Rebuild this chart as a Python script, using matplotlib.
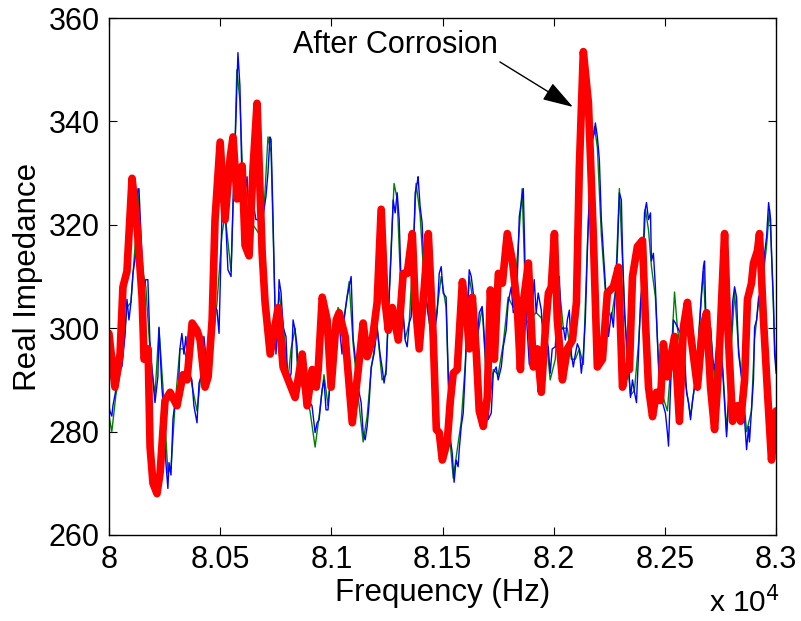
import numpy as np
import matplotlib
matplotlib.use('Agg')
import matplotlib.pyplot as plt
from matplotlib.patches import ArrowStyle

plt.rcParams['font.family'] = ['Liberation Sans', 'DejaVu Sans']

# after corrosion (thick red)
red_freq = [80000, 80027, 80050, 80063, 80081, 80104, 80126, 80149, 80158, 80176,
            80185, 80198, 80216, 80230, 80252, 80275, 80306, 80333, 80351, 80374,
            80396, 80410, 80432, 80446, 80464, 80477, 80500, 80522, 80545, 80558,
            80576, 80599, 80612, 80630, 80648, 80666, 80689, 80702, 80725, 80761,
            80783, 80806, 80837, 80869, 80891, 80914, 80932, 80941, 80959, 80981,
            80999, 81022, 81035, 81062, 81094, 81121, 81143, 81161, 81184, 81206,
            81224, 81242, 81256, 81274, 81301, 81323, 81341, 81364, 81377, 81395,
            81418, 81436, 81458, 81472, 81485, 81499, 81521, 81535, 81548, 81566,
            81589, 81607, 81620, 81634, 81652, 81665, 81683, 81701, 81715, 81733,
            81751, 81769, 81791, 81814, 81836, 81850, 81863, 81886, 81908, 81926,
            81944, 81962, 81976, 81989, 82003, 82016, 82039, 82061, 82084, 82102,
            82115, 82133, 82156, 82178, 82196, 82219, 82241, 82268, 82291, 82309,
            82327, 82340, 82354, 82376, 82399, 82412, 82426, 82444, 82462, 82480,
            82493, 82511, 82525, 82543, 82565, 82583, 82601, 82615, 82646, 82669,
            82687, 82705, 82723, 82741, 82768, 82781, 82804, 82826, 82840, 82858,
            82871, 82889, 82898, 82916, 82925, 82943, 82961, 82979, 83000]
red_imp = [299, 288.6, 295, 308, 311, 329, 320, 306, 294, 296,
           277, 270, 268, 272, 286, 287.6, 285, 291, 290, 301,
           299.6, 297.7, 288.6, 290.6, 301.6, 321, 336, 321, 333, 337,
           325, 331.4, 316, 314, 331, 343.5, 314.5, 305, 295, 304,
           292.5, 290, 286.6, 295, 285, 292, 288.6, 292, 306, 301.6,
           288.6, 301.6, 303, 298.4, 281.7, 292, 301, 294.5, 297.7, 305,
           323, 305, 299.6, 304, 297.7, 310.6, 310.6, 318.3, 305, 296,
           308, 318.3, 298.4, 280.4, 279.8, 274.5, 278, 286, 291.3, 292,
           309, 303.5, 296, 306, 295, 284, 281, 286.6, 307.4, 294,
           310.6, 308.7, 318.3, 313, 304, 292, 305, 312.6, 292.5, 296,
           287.6, 299.6, 306.8, 308, 318.3, 301.6, 290, 296, 297.7, 305,
           331, 353.5, 343.5, 317.7, 292.5, 294, 306.8, 308, 311.8, 288.6,
           292.5, 292, 310, 315.8, 317, 301.6, 288.6, 282.9, 287.6, 286,
           297, 290.6, 294, 298.4, 282, 300.2, 305, 299, 288.6, 300,
           303, 288.6, 280.4, 292, 318.3, 301.6, 282, 285, 282, 290,
           305.6, 308.7, 312.6, 315, 318.3, 301.6, 287.6, 274.5, 284]

# blue trace
blue_freq = [80000, 80004, 80013, 80018, 80031, 80040, 80058, 80072, 80081, 80090,
             80099, 80108, 80121, 80126, 80135, 80148, 80157, 80166, 80175, 80184,
             80193, 80207, 80220, 80225, 80238, 80247, 80256, 80265, 80270, 80279,
             80288, 80297, 80310, 80319, 80328, 80337, 80346, 80355, 80373, 80382,
             80396, 80405, 80414, 80427, 80441, 80450, 80468, 80477, 80486, 80495,
             80508, 80522, 80535, 80549, 80558, 80571, 80580, 80589, 80598, 80607,
             80621, 80634, 80648, 80661, 80679, 80693, 80706, 80715, 80724, 80729,
             80738, 80751, 80760, 80765, 80774, 80783, 80796, 80805, 80819, 80828,
             80837, 80846, 80850, 80868, 80882, 80891, 80904, 80913, 80927, 80936,
             80945, 80958, 80967, 80976, 80985, 80999, 81008, 81021, 81030, 81048,
             81057, 81071, 81080, 81089, 81098, 81107, 81120, 81134, 81143, 81152,
             81161, 81170, 81179, 81192, 81206, 81219, 81228, 81237, 81246, 81255,
             81269, 81278, 81287, 81296, 81305, 81314, 81323, 81332, 81341, 81350,
             81359, 81368, 81377, 81386, 81390, 81399, 81408, 81417, 81431, 81440,
             81449, 81458, 81467, 81476, 81485, 81494, 81503, 81516, 81525, 81534,
             81543, 81552, 81561, 81570, 81575, 81584, 81593, 81602, 81611, 81620,
             81629, 81638, 81647, 81656, 81665, 81678, 81683, 81692, 81701, 81705,
             81719, 81728, 81741, 81750, 81764, 81773, 81786, 81795, 81809, 81818,
             81831, 81840, 81845, 81854, 81863, 81876, 81890, 81899, 81912, 81921,
             81930, 81944, 81953, 81966, 81975, 81984, 81993, 82007, 82016, 82025,
             82034, 82043, 82052, 82061, 82070, 82079, 82088, 82097, 82106, 82115,
             82124, 82133, 82142, 82151, 82160, 82174, 82183, 82187, 82196, 82205,
             82214, 82228, 82237, 82246, 82259, 82268, 82277, 82286, 82295, 82304,
             82309, 82318, 82327, 82336, 82345, 82354, 82363, 82372, 82381, 82390,
             82399, 82408, 82417, 82426, 82435, 82439, 82448, 82457, 82466, 82475,
             82484, 82489, 82502, 82511, 82516, 82525, 82534, 82538, 82547, 82556,
             82570, 82579, 82588, 82597, 82606, 82615, 82624, 82637, 82646, 82655,
             82664, 82673, 82678, 82687, 82696, 82705, 82714, 82723, 82732, 82741,
             82750, 82759, 82768, 82777, 82786, 82795, 82804, 82813, 82822, 82831,
             82840, 82849, 82858, 82867, 82876, 82880, 82889, 82898, 82903, 82912,
             82921, 82930, 82939, 82948, 82957, 82966, 82975, 82979, 82988, 82993,
             83000]
blue_imp = [285, 284, 283, 285, 288, 292, 292.5, 298.4, 305.6, 301.6,
            305, 310.6, 314.5, 326, 327, 314.5, 308, 309.4, 309.4, 297.7,
            292, 285.6, 290.6, 300.2, 288.6, 283.6, 274, 269, 274, 271.6,
            282.5, 285.6, 285, 296, 299, 295, 298.4, 292, 290, 285,
            281.7, 289.4, 290.6, 298.4, 292.5, 289.4, 297.7, 304.2, 303.5, 299,
            321.6, 323.6, 311.3, 310, 324.3, 340.4, 353.3, 346.8, 328.7, 324.3,
            329.3, 316.5, 324.3, 321, 321, 321.6, 325.5, 330, 337, 336.5,
            321, 295, 301.6, 309.4, 306.8, 300.2, 298.4, 288.6, 291.3, 301.6,
            299.6, 296.4, 290, 291.3, 288.6, 290.6, 285.6, 285, 279.8, 281.7,
            282.3, 288, 290, 284.2, 284.2, 292, 298.4, 299.6, 303, 295,
            301.6, 306, 308, 310, 298, 294.5, 288.6, 285.6, 279.8, 278.4,
            281, 285.6, 292.5, 295, 300.2, 295, 292.5, 289.4, 292, 301.6,
            314.5, 324.8, 322.3, 326.2, 321, 308, 303, 297.7, 296.4, 301,
            302.2, 313, 326.2, 328.1, 329.3, 323.6, 320.4, 311.3, 304.2, 301.6,
            303, 298.4, 300.2, 303, 310.6, 311.9, 306.8, 306, 292, 279,
            276, 270.2, 274.5, 273.2, 276.5, 281, 283.6, 292, 301.6, 311.3,
            310, 306.8, 299, 297.7, 303, 304.2, 301.6, 295, 288, 282.3,
            283.6, 291.3, 292.5, 290, 292.5, 296.4, 299.6, 305, 308, 303,
            304.2, 314.5, 321.6, 324.3, 327, 303, 293, 301.6, 309.4, 303,
            306.8, 303.5, 297, 298.4, 296.4, 291.3, 296, 296.4, 303.5, 310,
            299.6, 300.2, 297.7, 301.6, 303.5, 295, 292.5, 295, 297, 296,
            291.3, 295, 301.6, 314.5, 326.2, 336.5, 337.8, 339.7, 337, 332.6,
            321, 311.3, 305, 298.4, 303, 300.2, 306.8, 314.5, 326.2, 324.8,
            315, 303, 297.7, 293.2, 286.6, 290, 287.6, 285.6, 295, 305,
            309.4, 322.3, 324.3, 321, 322.3, 313, 314.5, 308, 297.7, 288.6,
            293.2, 285.6, 283.6, 279.8, 277.2, 288.6, 296.4, 301.6, 301, 300.2,
            299, 292, 295, 287.6, 285.6, 282.3, 286, 290, 288, 300.2,
            306.8, 311.9, 313, 296.4, 297.7, 300.2, 294, 292, 296.4, 299,
            295, 292, 285.6, 279, 285.6, 295, 305, 308, 306, 295,
            292, 288.6, 282.3, 276.5, 281, 278, 284.2, 290, 300.2, 301.6,
            306, 306.8, 309.4, 314.5, 317.7, 324.3, 321, 314.5, 305, 295,
            291.3]

# green trace
green_freq = [80000, 80013, 80031, 80058, 80081, 80099, 80121, 80130, 80148, 80166,
              80184, 80207, 80225, 80247, 80265, 80279, 80297, 80319, 80337, 80355,
              80382, 80396, 80414, 80441, 80468, 80486, 80508, 80522, 80549, 80567,
              80575, 80589, 80607, 80634, 80648, 80679, 80700, 80715, 80729, 80751,
              80765, 80783, 80805, 80819, 80837, 80850, 80882, 80904, 80927, 80945,
              80967, 80985, 81008, 81030, 81057, 81080, 81098, 81120, 81143, 81161,
              81179, 81206, 81228, 81246, 81269, 81282, 81296, 81314, 81332, 81350,
              81368, 81381, 81399, 81417, 81440, 81458, 81476, 81494, 81516, 81534,
              81548, 81561, 81584, 81602, 81620, 81638, 81656, 81678, 81692, 81705,
              81728, 81750, 81773, 81795, 81818, 81840, 81858, 81876, 81899, 81921,
              81944, 81966, 81984, 82007, 82025, 82043, 82061, 82079, 82097, 82115,
              82133, 82151, 82169, 82183, 82196, 82214, 82237, 82259, 82277, 82295,
              82309, 82327, 82345, 82363, 82381, 82399, 82412, 82426, 82439, 82457,
              82475, 82489, 82511, 82525, 82543, 82556, 82579, 82597, 82615, 82637,
              82655, 82673, 82687, 82705, 82723, 82741, 82759, 82777, 82795, 82813,
              82831, 82849, 82867, 82889, 82903, 82921, 82939, 82957, 82970, 82979,
              82993, 83000]
green_imp = [283, 280, 287, 293, 304, 305, 318, 327, 312, 308,
             296, 287, 300, 286, 272, 273, 285, 296, 296, 293,
             287, 284, 291, 294, 298, 305, 318, 322, 311, 336,
             350, 344, 323, 316, 320, 318, 325, 337, 334, 297,
             307, 301, 290, 296, 300, 291, 287, 284, 277, 283,
             291, 285, 297, 304, 302, 309, 297, 287, 278, 283,
             292, 300, 290, 291, 316, 328, 325, 306, 298, 301,
             315, 328, 322, 309, 301, 299, 304, 310, 304, 278,
             271, 275, 282, 293, 310, 305, 298, 304, 294, 283,
             292, 291, 297, 306, 304, 316, 327, 301, 302, 303,
             302, 298, 290, 294, 308, 300, 300, 294, 294, 296,
             293, 316, 335, 339, 335, 318, 304, 302, 307, 327,
             313, 296, 287, 288, 297, 310, 323, 319, 312, 306,
             290, 287, 284, 292, 307, 300, 293, 288, 283, 290,
             301, 311, 297, 300, 290, 300, 293, 280, 294, 307,
             296, 289, 280, 284, 298, 305, 309, 316, 323, 315,
             297, 292]

x_ticks = [8, 8.05, 8.1, 8.15, 8.2, 8.25, 8.3]
x_ticklabels = ['8', '8.05', '8.1', '8.15', '8.2', '8.25', '8.3']
y_ticks = [260, 280, 300, 320, 340, 360]

fig = plt.figure(figsize=(8.01, 6.21), dpi=100)
ax = fig.add_axes([0.136, 0.1385, 0.833, 0.8325])

ax.plot(np.array(green_freq) / 1e4, green_imp, color=(0, 0.5, 0), lw=1.0)
ax.plot(np.array(blue_freq) / 1e4, blue_imp, color=(0, 0, 1), lw=1.0)
ax.plot(np.array(red_freq) / 1e4, red_imp, color=(1, 0, 0), lw=5.5,
        solid_joinstyle='round', solid_capstyle='round')

ax.set_xlim(8, 8.3)
ax.set_ylim(260, 360)
ax.set_xticks(x_ticks)
ax.set_xticklabels(x_ticklabels)
ax.set_yticks(y_ticks)
ax.tick_params(direction='in', top=True, right=True, labelsize=22, length=6)
ax.tick_params(axis='x', pad=7.5)
ax.tick_params(axis='y', pad=6.5)
for s in ax.spines.values():
    s.set_linewidth(1.0)

ax.set_xlabel('Frequency (Hz)', fontsize=22.5, labelpad=2)
ax.set_ylabel('Real Impedance', fontsize=22.5, labelpad=4)
fig.text(0.885, 0.004, r'x 10$^{4}$', fontsize=21.5, ha='left', va='bottom')

# annotation: text and arrow placed separately
ax.text(8.0827, 354.8, 'After Corrosion', fontsize=22, va='center', ha='left')
ax.annotate('', xy=(8.2086, 342.8), xytext=(8.1758, 351.5),
            arrowprops=dict(arrowstyle=ArrowStyle('-|>', head_length=0.95, head_width=0.3),
                            color='black', lw=1.0, mutation_scale=20,
                            shrinkA=0, shrinkB=0))

fig.savefig('out.png', dpi=100)
